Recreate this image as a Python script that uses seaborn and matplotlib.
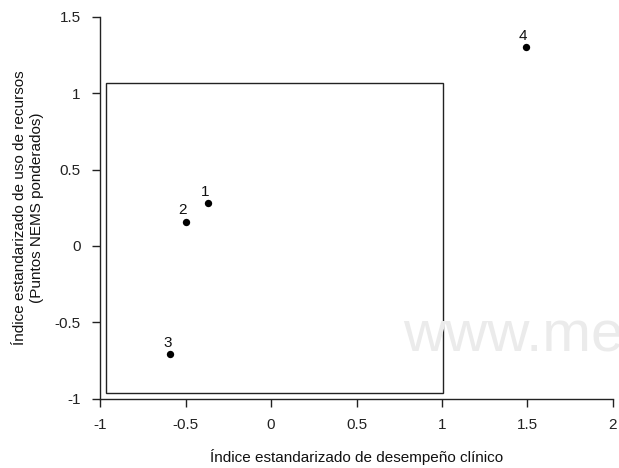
import matplotlib
matplotlib.use('Agg')
import matplotlib.pyplot as plt
import matplotlib.patches as patches
import seaborn as sns
import pandas as pd

sns.set_style('ticks')
plt.rcParams['font.family'] = ['Liberation Sans', 'DejaVu Sans']

# Data
unit_labels = ['1', '2', '3', '4']
clinical_idx = [-0.37, -0.50, -0.59, 1.49]
resource_idx = [0.28, 0.16, -0.71, 1.30]

# reference box (lower-left / upper-right corners in data units)
box_x = [-0.965, 1.005]
box_y = [-0.96, 1.07]

x_ticks = [-1, -0.5, 0, 0.5, 1, 1.5, 2]
x_tick_labels = ['-1', '-0.5', '0', '0.5', '1', '1.5', '2']
y_ticks = [-1, -0.5, 0, 0.5, 1, 1.5]
y_tick_labels = ['-1', '-0.5', '0', '0.5', '1', '1.5']

df = pd.DataFrame({'x': clinical_idx, 'y': resource_idx, 'label': unit_labels})

fig = plt.figure(figsize=(6.19, 4.68), dpi=100)
ax = fig.add_axes([0.162, 0.148, 0.828, 0.816])

# watermark behind everything (cut at the right edge, as in the source image)
fig.text(0.651, 0.25, 'www.mec', fontsize=42, color='#ebebeb',
         ha='left', va='baseline', zorder=0)
ax.set_facecolor('none')

ax.add_patch(patches.Rectangle((box_x[0], box_y[0]), box_x[1] - box_x[0],
                               box_y[1] - box_y[0], fill=False,
                               edgecolor='#222222', linewidth=1.0))

sns.scatterplot(data=df, x='x', y='y', color='black', s=28,
                edgecolor='black', linewidth=0, ax=ax, zorder=3)

for _, row in df.iterrows():
    ax.annotate(row['label'], (row['x'], row['y']), textcoords='offset points',
                xytext=(-2, 3), ha='center', va='bottom', fontsize=11,
                color='#111111')

ax.set_xlim(-1, 2)
ax.set_ylim(-1, 1.5)
ax.set_xticks(x_ticks)
ax.set_xticklabels(x_tick_labels)
ax.set_yticks(y_ticks)
ax.set_yticklabels(y_tick_labels)
ax.tick_params(direction='out', length=6, width=1, colors='#222222',
               labelsize=11, pad=8)
for side in ['top', 'right']:
    ax.spines[side].set_visible(False)
for side in ['left', 'bottom']:
    ax.spines[side].set_color('#222222')
    ax.spines[side].set_linewidth(1)

ax.set_xlabel('Índice estandarizado de desempeño clínico', fontsize=11,
              labelpad=12, color='#111111')
ax.set_ylabel('Índice estandarizado de uso de recursos\n(Puntos NEMS ponderados)',
              fontsize=11, labelpad=8, color='#111111')

fig.savefig('out.png', dpi=100, facecolor='white')
